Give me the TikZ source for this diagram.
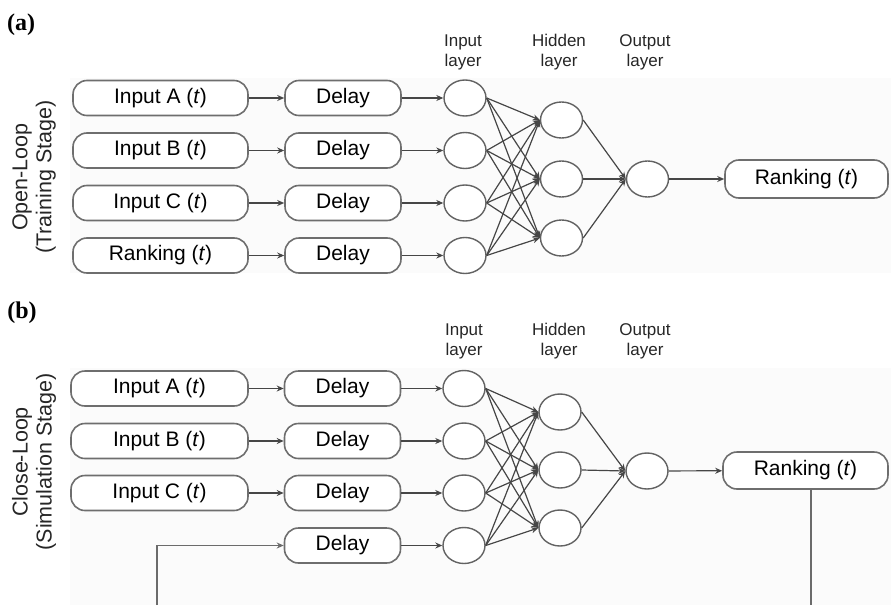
\documentclass[tikz,border=0pt]{standalone}
\usepackage{fontspec}
\setmainfont{Liberation Sans}
\newfontfamily\labfont{Liberation Serif}
\usetikzlibrary{arrows.meta,shapes.geometric}
\definecolor{boxc}{RGB}{110,110,110}
\definecolor{linec}{RGB}{70,70,70}
\definecolor{bgc}{RGB}{251,251,251}
\tikzset{
  box/.style={draw=boxc, line width=1.6pt, rounded corners=14pt, minimum height=35pt,
    inner sep=0pt, fill=white, font=\fontsize{21}{24}\selectfont},
  neuron/.style={draw=linec!85, line width=1.4pt, ellipse, minimum width=42pt,
    minimum height=36pt, inner sep=0pt, fill=white},
  conn/.style={draw=linec, line width=1.2pt, -{Stealth[length=7pt,width=6pt]}},
  plain/.style={draw=linec!80, line width=1.5pt},
  layerlab/.style={align=center, font=\fontsize{17}{20}\selectfont, text=black!85},
  sidelab/.style={align=center, rotate=90, font=\fontsize{21.5}{24}\selectfont, text=black!85},
  panellab/.style={font=\labfont\bfseries\fontsize{24}{26}\selectfont}
}
\begin{document}
\begin{tikzpicture}[x=1pt,y=-1pt]
\useasboundingbox (0,0) rectangle (891,605);
\fill[bgc] (70,78) rectangle (891,273);
\fill[bgc] (70,368) rectangle (891,605);

% ---------------- panel (a) ----------------
\node[panellab] (pa) at (21,25) {(a)};
\node[sidelab] (sa) at (34,177) {Open-Loop\\(Training Stage)};
\node[layerlab] (la1) at (463,52) {Input\\layer};
\node[layerlab] (la2) at (559,52) {Hidden\\layer};
\node[layerlab] (la3) at (645,52) {Output\\layer};

\node[box, minimum width=175pt] (ai1) at (160.5,98) {Input A (\textit{t})};
\node[box, minimum width=175pt] (ai2) at (160.5,150.5) {Input B (\textit{t})};
\node[box, minimum width=175pt] (ai3) at (160.5,203) {Input C (\textit{t})};
\node[box, minimum width=175pt] (ai4) at (160.5,255.5) {Ranking (\textit{t})};
\foreach \i/\y in {1/98,2/150.5,3/203,4/255.5}{
  \node[box, minimum width=116pt] (ad\i) at (343,\y) {Delay};
  \node[neuron] (an\i) at (465,\y) {};
  \draw[conn] (ai\i) -- (ad\i);
  \draw[conn] (ad\i) -- (an\i);
}
\foreach \j/\y in {1/120,2/179,3/238}{
  \node[neuron] (ah\j) at (561.5,\y) {};
}
\node[neuron] (ao) at (647.5,179) {};
\node[box, minimum width=163pt, minimum height=38pt] (ar) at (806.5,179) {Ranking (\textit{t})};
\foreach \i in {1,...,4}{
  \foreach \j in {1,2,3}{
    \draw[conn] (an\i.east) -- (ah\j.west);
  }
}
\foreach \j in {1,2,3}{
  \draw[conn] (ah\j.east) -- (ao.west);
}
\draw[conn] (ao) -- (ar);

% ---------------- panel (b) ----------------
\node[panellab] (pb) at (22,313) {(b)};
\node[sidelab] (sb) at (34,462) {Close-Loop\\(Simulation Stage)};
\node[layerlab] (lb1) at (464,341) {Input\\layer};
\node[layerlab] (lb2) at (559,341) {Hidden\\layer};
\node[layerlab] (lb3) at (645,341) {Output\\layer};

\node[box, minimum width=177pt] (bi1) at (159.5,388.5) {Input A (\textit{t})};
\node[box, minimum width=177pt] (bi2) at (159.5,441) {Input B (\textit{t})};
\node[box, minimum width=177pt] (bi3) at (159.5,493) {Input C (\textit{t})};
\foreach \i/\y in {1/388.5,2/441,3/493,4/545.5}{
  \node[box, minimum width=116pt] (bd\i) at (342.5,\y) {Delay};
  \node[neuron] (bn\i) at (464,\y) {};
  \draw[conn] (bd\i) -- (bn\i);
}
\foreach \i in {1,2,3}{
  \draw[conn] (bi\i) -- (bd\i);
}
\foreach \j/\y in {1/412,2/470,3/528}{
  \node[neuron] (bh\j) at (560,\y) {};
}
\node[neuron] (bo) at (647,471) {};
\node[box, minimum width=165pt, minimum height=37pt] (br) at (805.5,470.5) {Ranking (\textit{t})};
\foreach \i in {1,...,4}{
  \foreach \j in {1,2,3}{
    \draw[conn] (bn\i.east) -- (bh\j.west);
  }
}
\foreach \j in {1,2,3}{
  \draw[conn] (bh\j.east) -- (bo.west);
}
\draw[conn] (bo) -- (br);

\coordinate (fbend) at (811,605);
\coordinate (fbstart) at (157,605);
\draw[plain] (br.south -| fbend) -- (fbend);
\draw[conn, line width=1.5pt, draw=linec!80] (fbstart) |- (bd4.west);
\end{tikzpicture}
\end{document}
